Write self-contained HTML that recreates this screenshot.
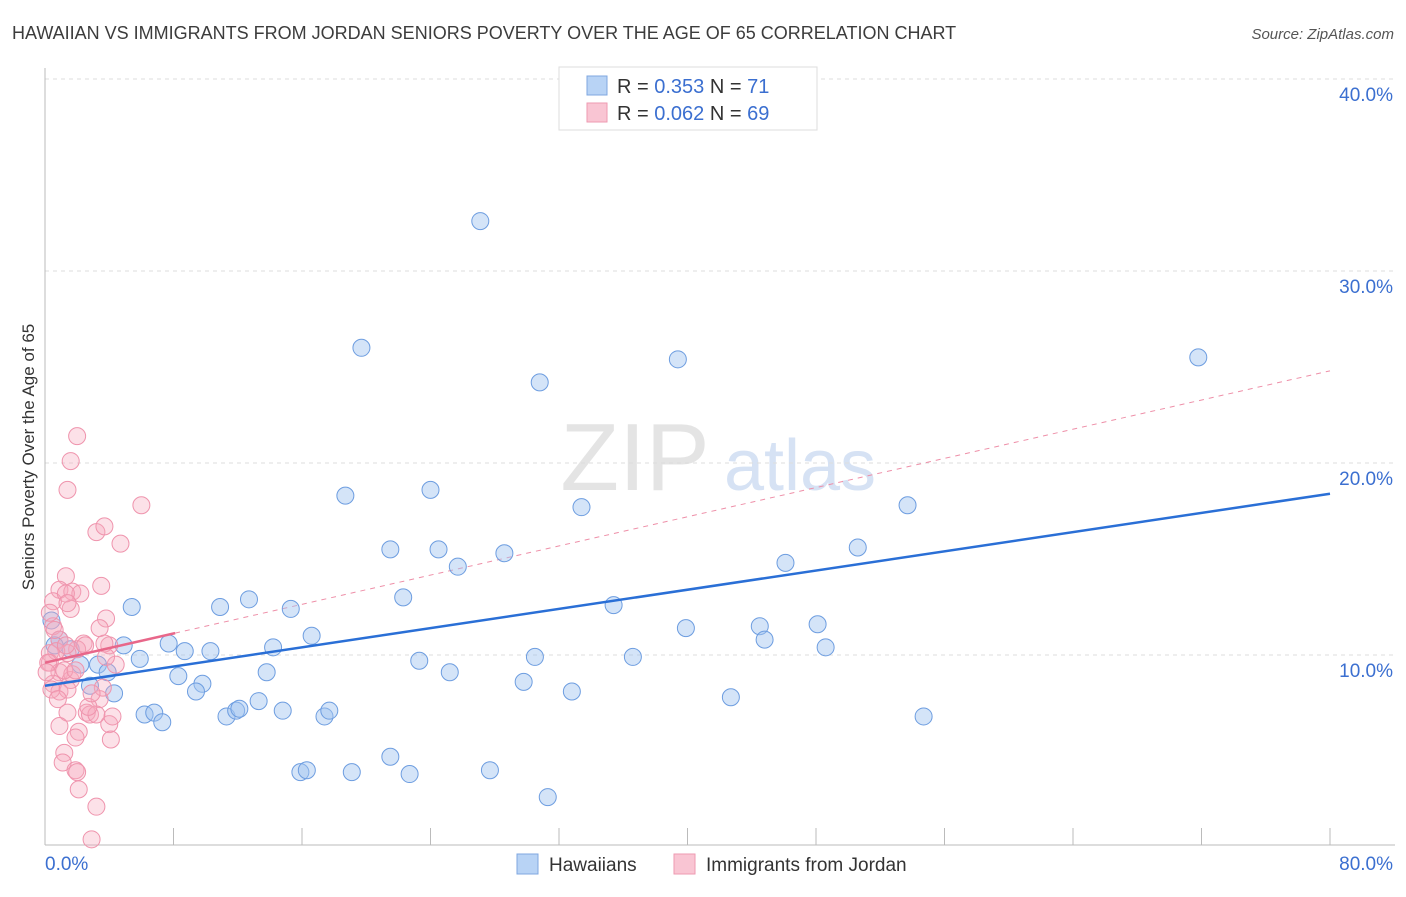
<!DOCTYPE html>
<html><head><meta charset="utf-8"><style>
body{margin:0;background:#fff;font-family:"Liberation Sans",sans-serif;}
svg text{font-family:"Liberation Sans",sans-serif;}
</style></head><body>
<svg id="chart" width="1406" height="892" xmlns="http://www.w3.org/2000/svg">
<text x="12" y="39" font-size="18" fill="#3c3c3c">HAWAIIAN VS IMMIGRANTS FROM JORDAN SENIORS POVERTY OVER THE AGE OF 65 CORRELATION CHART</text>
<text x="1394" y="39" font-size="15" fill="#555" text-anchor="end" font-style="italic">Source: ZipAtlas.com</text>
<g><text x="635" y="490" font-size="96" fill="#e4e4e4" text-anchor="middle" font-family="Liberation Serif">ZIP</text><text x="800" y="490" font-size="72" fill="#d6e2f4" text-anchor="middle">atlas</text></g>
<g id="grid"></g>
<g id="axes"></g>
<g id="lines"></g>
<g id="pts"></g>
<text transform="translate(34,457) rotate(-90)" font-size="17" fill="#333" text-anchor="middle">Seniors Poverty Over the Age of 65</text>
<g>
<rect x="559" y="67" width="258" height="63" fill="#fff" stroke="#ddd"/>
<rect x="587" y="76" width="20" height="19" fill="#b8d3f5" stroke="#7fa7e0"/>
<rect x="587" y="103" width="20" height="19" fill="#f9c5d3" stroke="#ee9ab2"/>
<text x="617" y="93" font-size="20" fill="#333">R = <tspan fill="#3b6fd0">0.353</tspan>   N =  <tspan fill="#3b6fd0">71</tspan></text>
<text x="617" y="120" font-size="20" fill="#333">R = <tspan fill="#3b6fd0">0.062</tspan>   N = <tspan fill="#3b6fd0">69</tspan></text>
</g>
<g>
<rect x="517" y="854" width="21" height="20" fill="#b8d3f5" stroke="#7fa7e0"/>
<text x="549" y="871" font-size="19" fill="#333">Hawaiians</text>
<rect x="674" y="854" width="21" height="20" fill="#f9c5d3" stroke="#ee9ab2"/>
<text x="706" y="871" font-size="19" fill="#333">Immigrants from Jordan</text>
</g>
</svg>
<script>
const yTicks=[10,20,30,40];
const xTickLabels=["0.0%","80.0%"];
const blueX=[27.1,19.7,39.4,71.8,30.8,18.7,24.0,33.4,53.7,21.5,24.5,28.6,25.7,46.1,50.6,5.4,10.9,12.7,15.3,22.3,35.4,16.6,39.9,44.5,48.1,44.8,48.6,4.9,7.7,8.7,10.3,14.2,5.9,3.3,3.9,2.2,0.9,0.4,23.3,25.2,30.5,36.6,8.3,9.8,13.8,2.8,4.3,9.4,29.8,32.8,6.2,6.8,7.3,11.3,11.9,12.1,13.3,14.8,17.4,17.7,42.7,54.7,15.9,16.3,19.1,21.5,22.7,27.7,31.3,0.6,1.6];
const blueY=[32.6,26.0,25.4,25.5,24.2,18.3,18.6,17.7,17.8,15.5,15.5,15.3,14.6,14.8,15.6,12.5,12.5,12.9,12.4,13.0,12.6,11.0,11.4,11.5,11.6,10.8,10.4,10.5,10.6,10.2,10.2,10.4,9.8,9.5,9.1,9.5,10.8,11.8,9.7,9.1,9.9,9.9,8.9,8.5,9.1,8.4,8.0,8.1,8.6,8.1,6.9,7.0,6.5,6.8,7.1,7.2,7.6,7.1,6.8,7.1,7.8,6.8,3.9,4.0,3.9,4.7,3.8,4.0,2.6,10.5,10.3];
const pinkX=[2.0,1.6,1.4,6.0,3.2,3.7,4.7,1.3,3.5,0.9,1.7,0.5,1.6,3.8,3.4,0.5,0.9,2.4,2.0,0.3,0.3,1.4,4.4,0.9,1.6,0.5,0.9,1.4,3.4,2.6,2.8,1.4,0.9,2.1,4.0,1.9,4.1,1.2,1.1,1.9,2.0,2.1,3.2,2.9,2.5,0.7,0.2,0.1,0.4,2.2,1.7,0.8,1.3,4.0,3.6,4.2,3.2,1.3,1.4,0.6,1.2,1.9,2.7,2.9,3.7,3.8,0.3];
const pinkY=[21.4,20.1,18.6,17.8,16.4,16.7,15.8,14.1,13.6,13.4,13.3,12.8,12.4,11.9,11.4,11.5,10.8,10.6,10.3,10.1,9.6,10.1,9.5,9.1,8.7,8.5,8.1,8.2,7.7,7.0,6.9,7.0,6.3,6.0,6.4,5.7,5.6,4.9,4.4,4.0,3.9,3.0,2.1,0.4,10.5,10.2,9.6,9.1,8.2,13.2,9.0,7.7,10.5,10.5,8.3,6.8,6.9,13.2,12.7,11.3,9.2,9.2,7.3,8.0,10.6,9.9,12.2];
const blueTrend=[8.4,18.4];
const pinkTrend=[9.6,24.8];
const pinkSolidEnd=8.1;
const NS="http://www.w3.org/2000/svg";
const X=v=>45+v*(1285/80);
const Y=v=>847-v*19.2;
function mk(tag,parent,attrs){const e=document.createElementNS(NS,tag);for(const k in attrs)e.setAttribute(k,attrs[k]);document.getElementById(parent).appendChild(e);return e;}
yTicks.forEach(t=>{
 const l=mk('line','grid',{x1:45,x2:1395,y1:Y(t),y2:Y(t),stroke:'#ddd','stroke-dasharray':'4,4'});
 
 
 const tx=mk('text','grid',{x:1393,y:Y(t)+22,'font-size':19,fill:'#3b6fd0','text-anchor':'end'});
 tx.textContent=t.toFixed(1)+'%';
 
 
});
const ax=mk('line','axes',{x1:45,x2:45,y1:68,y2:845,stroke:'#bbb'});


const bx=mk('line','axes',{x1:45,x2:1395,y1:845,y2:845,stroke:'#bbb'});


for(let i=0;i<=10;i++){const tk=mk('line','axes',{x1:X(i*8),x2:X(i*8),y1:828,y2:845,stroke:'#bbb'});
 
 }
[[0,'start',45],[80,'end',1393]].forEach((a,i)=>{const t=mk('text','axes',{x:a[2],y:870,'font-size':19,fill:'#3b6fd0','text-anchor':a[1]});t.textContent=xTickLabels[i];
 
 });
const sl=(pinkTrend[1]-pinkTrend[0])/80;
const pd=mk('line','lines',{x1:X(pinkSolidEnd),y1:Y(pinkTrend[0]+sl*pinkSolidEnd),x2:X(80),y2:Y(pinkTrend[1]),stroke:'#ee8fa8','stroke-dasharray':'5,5','stroke-width':1});


blueX.forEach((v,i)=>{const c=mk('circle','pts',{cx:X(v),cy:Y(blueY[i]),r:8.5,fill:'rgba(160,195,240,0.45)',stroke:'#6d9de0','stroke-width':1});
 
 });
pinkX.forEach((v,i)=>{const c=mk('circle','pts',{cx:X(v),cy:Y(pinkY[i]),r:8.5,fill:'rgba(245,170,190,0.35)',stroke:'#ef94ad','stroke-width':1});
 
 });
const bl=mk('line','pts',{x1:X(0),y1:Y(blueTrend[0]),x2:X(80),y2:Y(blueTrend[1]),stroke:'#2a6fd6','stroke-width':2.5});


const ps=mk('line','pts',{x1:X(0),y1:Y(pinkTrend[0]),x2:X(pinkSolidEnd),y2:Y(pinkTrend[0]+sl*pinkSolidEnd),stroke:'#e8678a','stroke-width':2.5});


</script>
</body></html>
